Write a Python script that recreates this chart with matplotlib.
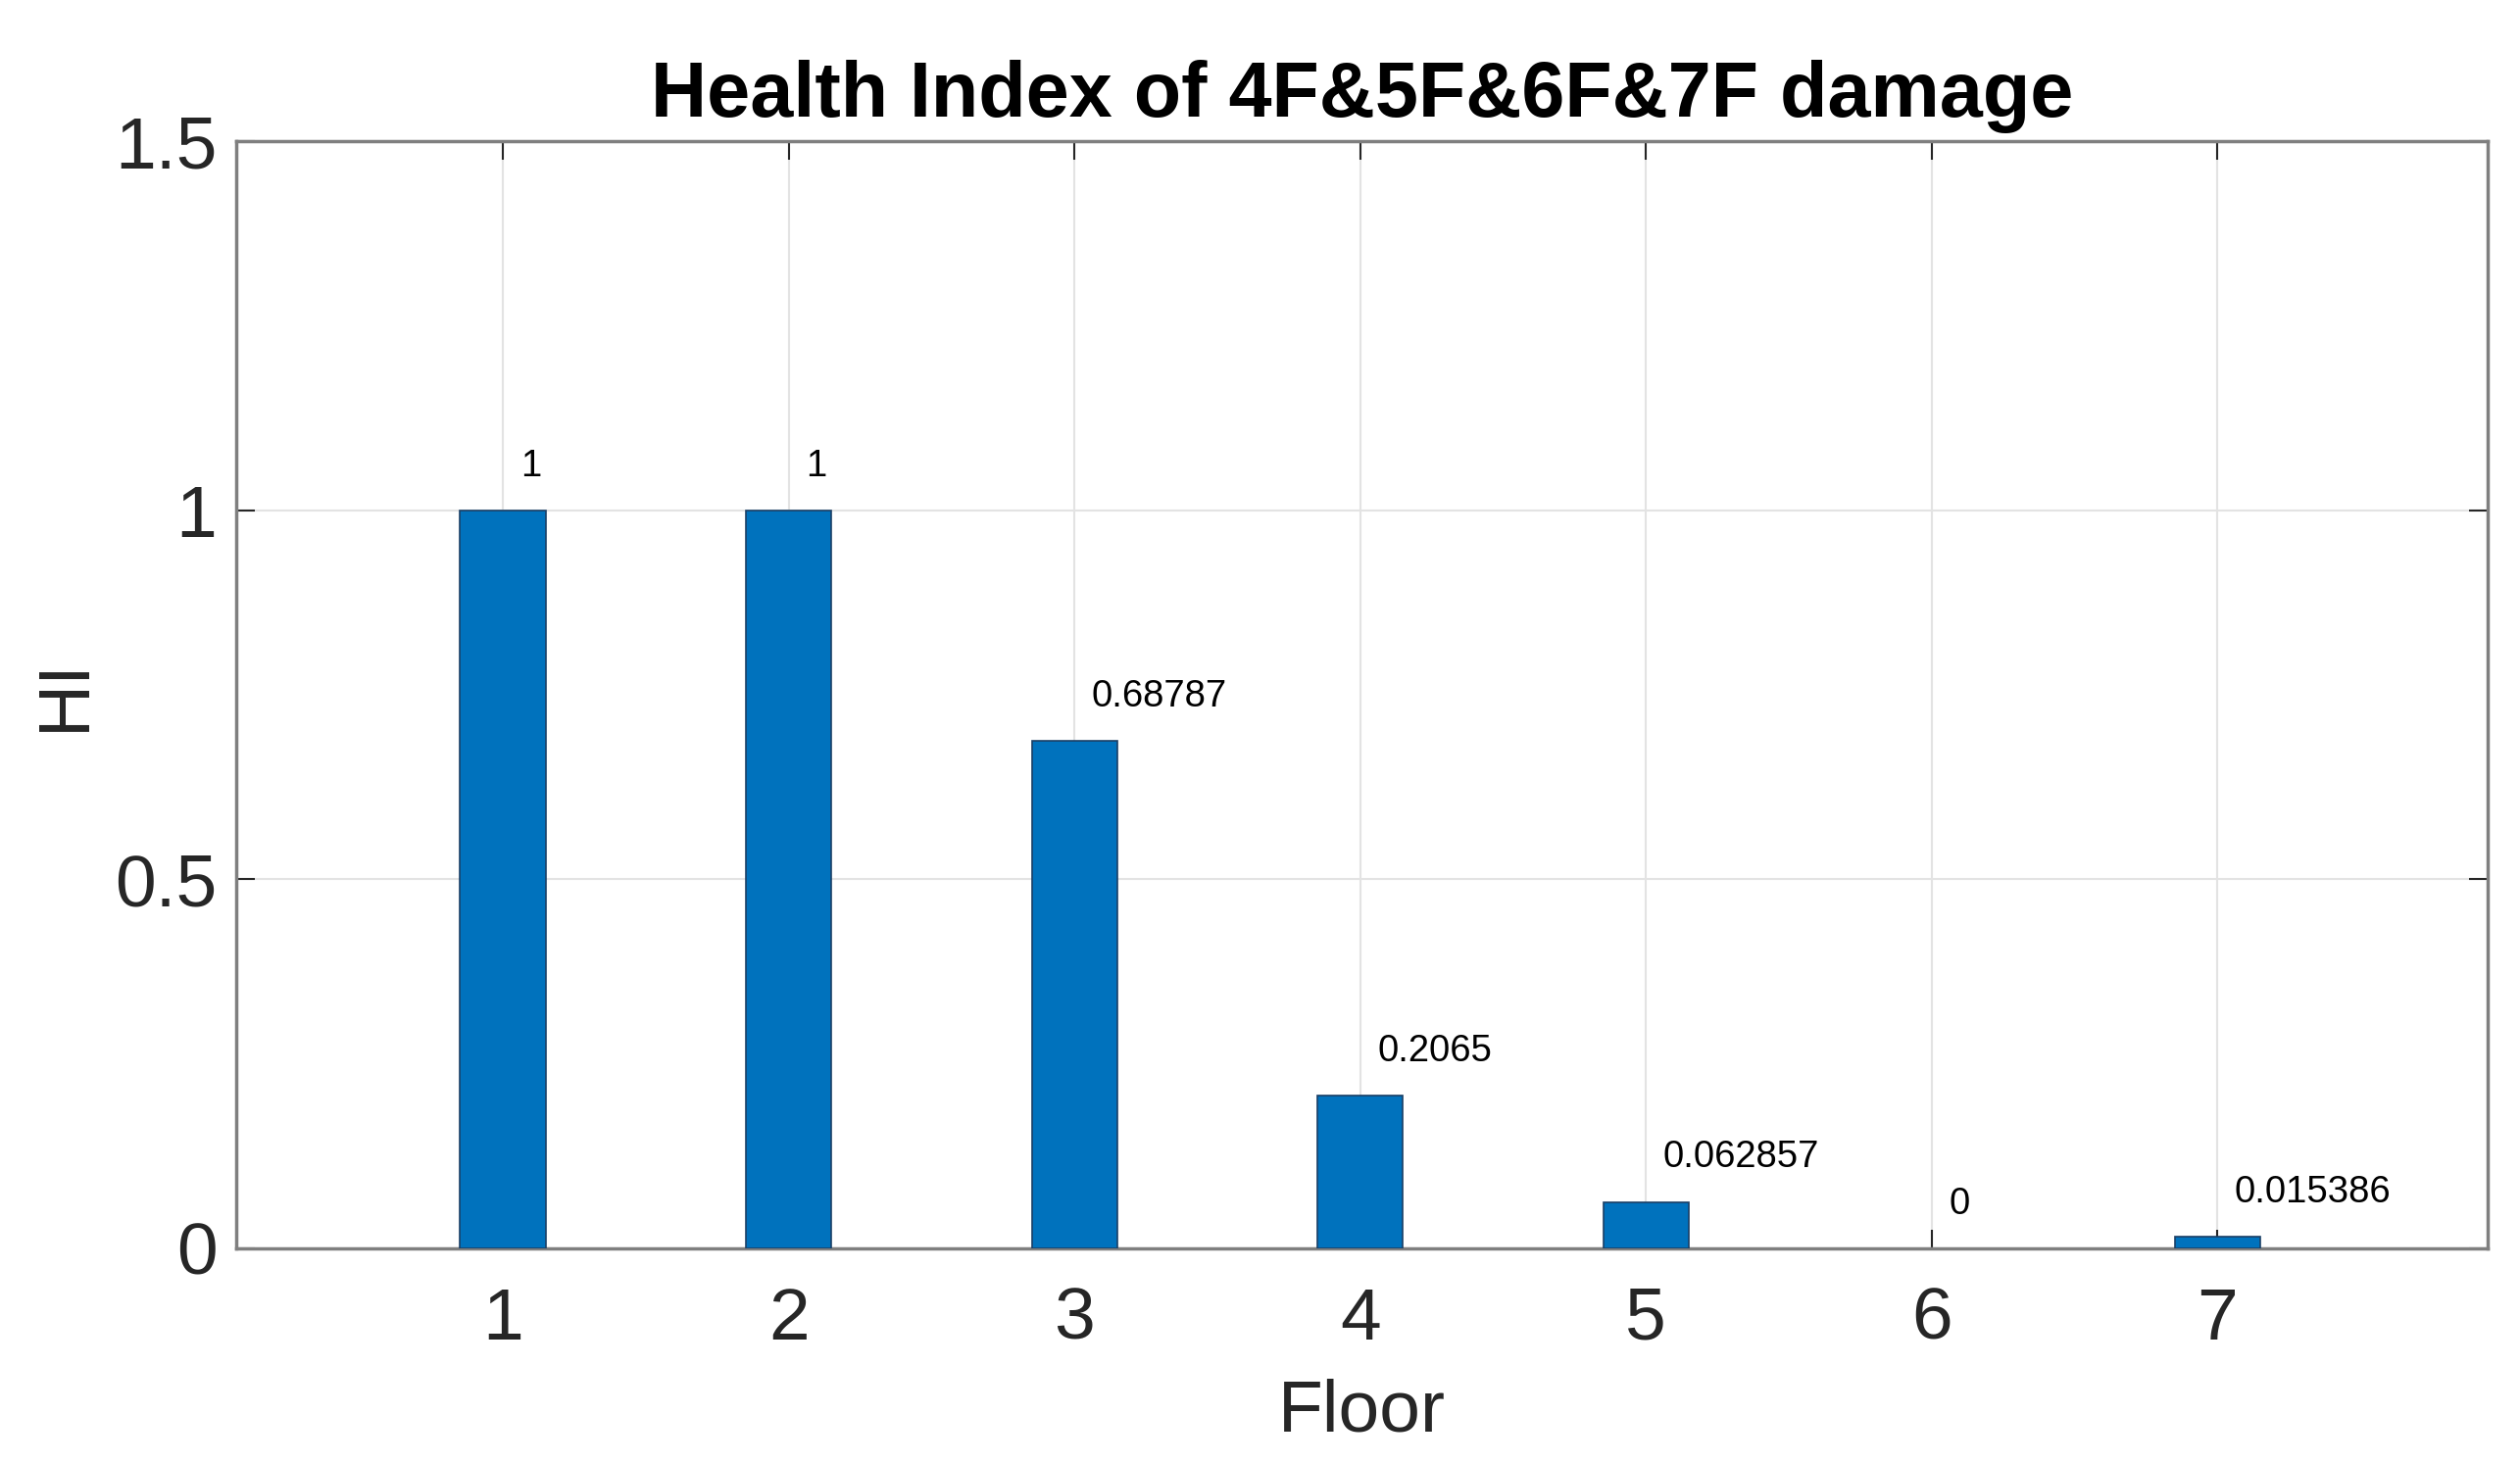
import matplotlib.pyplot as plt

# Health index per floor
floors = [1, 2, 3, 4, 5, 6, 7]
hi_values = [1.0, 1.0, 0.68787, 0.2065, 0.062857, 0.0, 0.015386]
value_labels = ["1", "1", "0.68787", "0.2065", "0.062857", "0", "0.015386"]
y_ticks = [0, 0.5, 1, 1.5]
y_tick_labels = ["0", "0.5", "1", "1.5"]

plt.rcParams["font.family"] = ["Liberation Sans", "DejaVu Sans"]

fig = plt.figure(figsize=(25.71, 14.93), dpi=100)
ax = fig.add_axes([0.0937, 0.1467, 0.8934, 0.7568])

edges = ["none" if v == 0 else "#1a3f66" for v in hi_values]
ax.bar(floors, hi_values, width=0.3, color="#0072BD", edgecolor=edges,
       linewidth=1.2, zorder=3)

for x, y, lab in zip(floors, hi_values, value_labels):
    ax.text(x + 0.06, y + 0.06, lab, ha="left", va="center", fontsize=27.5,
            color="black", zorder=4)

ax.set_xlim(0.066, 7.945)
ax.set_ylim(0, 1.5)
ax.set_xticks(floors)
ax.set_yticks(y_ticks)
ax.set_yticklabels(y_tick_labels)

ax.tick_params(axis="both", which="both", direction="in", length=14, width=1.5,
               labelsize=54, colors="#262626", top=True, right=True, pad=14)
ax.tick_params(axis="x", pad=28)
ax.grid(True, color="#e3e3e3", linewidth=1.5, zorder=0)
ax.set_axisbelow(True)
for s in ax.spines.values():
    s.set_color("#7f7f7f")
    s.set_linewidth(2.5)

ax.set_xlabel("Floor", fontsize=54, color="#262626", labelpad=18)
ax.set_ylabel("HI", fontsize=54, color="#262626", labelpad=12)
ax.set_title("Health Index of 4F&5F&6F&7F damage", fontsize=57,
             fontweight="bold", pad=18)

fig.savefig("out.png", dpi=100)
